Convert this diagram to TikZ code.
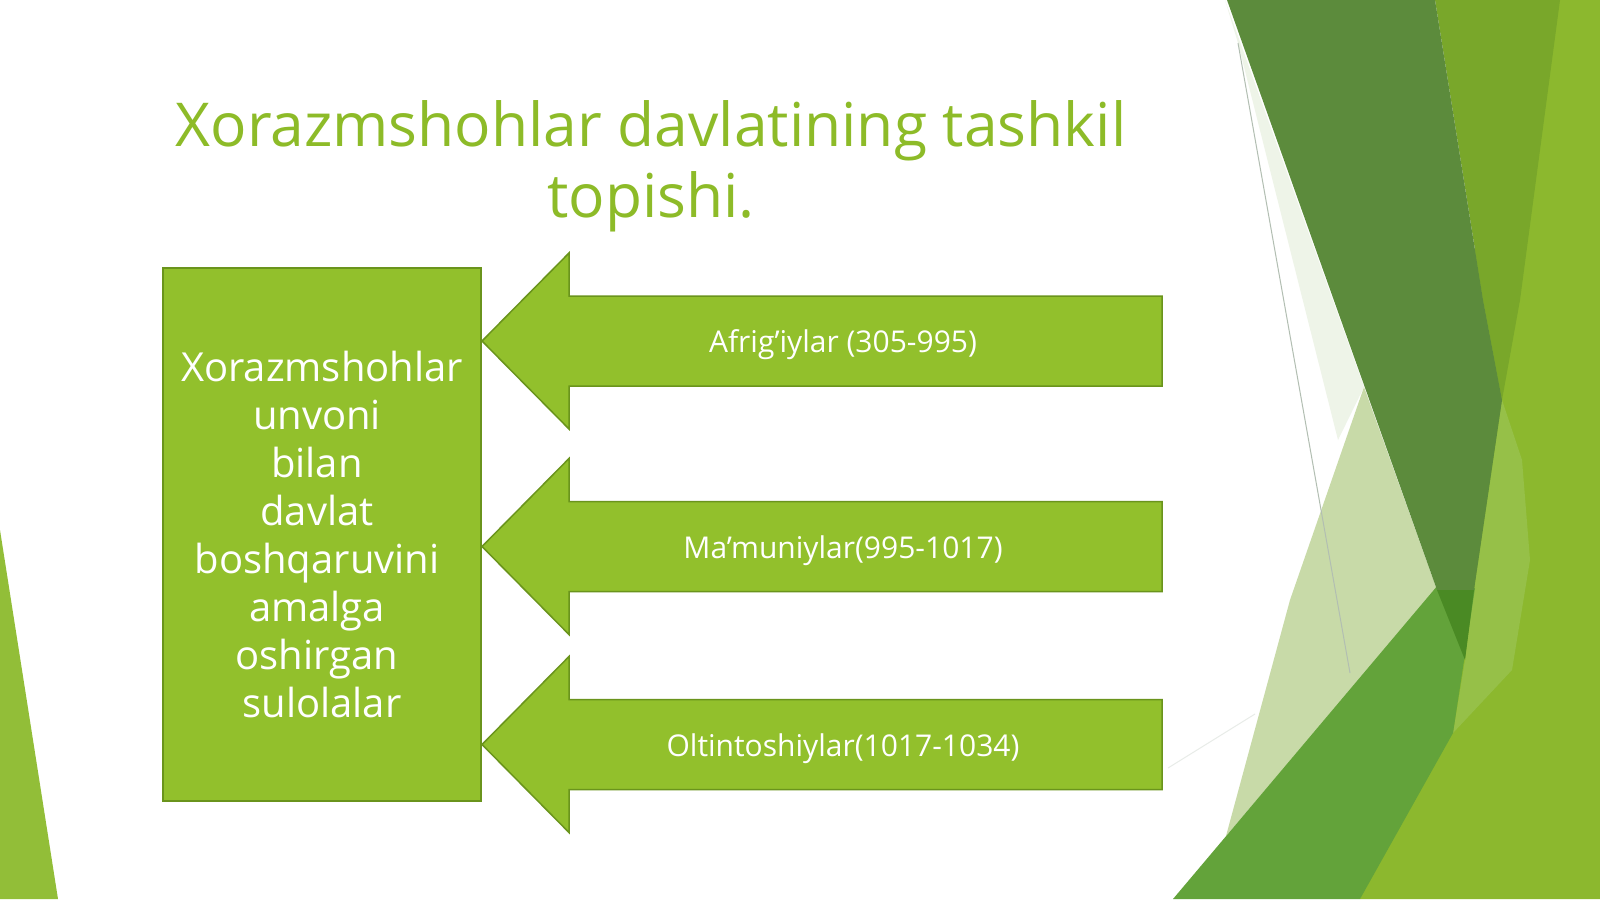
\documentclass[tikz,border=0pt]{standalone}
\usepackage{fontspec}
\setmainfont{Open Sans}
\definecolor{titleg}{RGB}{141,187,40}
\definecolor{boxg}{RGB}{146,192,44}
\definecolor{boxline}{RGB}{106,148,28}
\definecolor{ltg}{RGB}{140,184,46}
\definecolor{mdg}{RGB}{121,167,42}
\definecolor{dkg}{RGB}{92,139,60}
\definecolor{bandg}{RGB}{99,163,58}
\definecolor{paleg}{RGB}{200,218,168}
\definecolor{veryp}{RGB}{238,244,232}
\definecolor{tipg}{RGB}{74,138,36}
\definecolor{softg}{RGB}{150,192,72}
\definecolor{leftg}{RGB}{146,190,56}
\tikzset{
  arrowbox/.style={fill=boxg, draw=boxline, line width=1.5pt, line join=miter},
  mainbox/.style={fill=boxg, draw=boxline, line width=1.5pt, minimum width=318pt, minimum height=533pt, inner sep=0pt, align=center, text=white, font=\fontsize{40}{48}\selectfont},
  arrowlabel/.style={text=white, font=\fontsize{30}{34}\selectfont, inner sep=0pt},
  titletext/.style={text=titleg, align=center, font=\fontsize{60.5}{71}\selectfont, inner sep=0pt}
}
\newcommand\leftarrowshape[1]{%
  \draw[arrowbox] (482,#1) -- (569,{#1-88}) -- (569,{#1-45}) -- (1162,{#1-45}) -- (1162,{#1+45}) -- (569,{#1+45}) -- (569,{#1+88}) -- cycle;}
\newcommand\trail{\hbox to 10pt{}}
\begin{document}
\begin{tikzpicture}[x=1pt,y=-1pt]
\useasboundingbox (0,0) rectangle (1600,899);
\fill[white] (0,0) rectangle (1600,899);
% left decoration
\fill[leftg] (0,530) -- (58,899) -- (0,899) -- cycle;
% right decoration
\fill[ltg] (1500,0) -- (1600,0) -- (1600,899) -- (1360,899) -- (1440,600) -- cycle;
\fill[mdg] (1435,0) -- (1560,0) -- (1520,300) -- (1502,400) -- (1483,300) -- cycle;
\fill[softg] (1502,400) -- (1522,460) -- (1530,560) -- (1512,670) -- (1453,733) -- (1465,660) -- (1474,590) -- cycle;
\fill[veryp] (1225,0) -- (1364,387) -- (1338,440) -- (1238,43) -- cycle;
\fill[paleg] (1364,387) -- (1290,600) -- (1226,836) -- (1432,595) -- (1437,590) -- cycle;
\fill[bandg] (1438,585) -- (1475,588) -- (1453,733) -- (1360,899) -- (1173,899) -- cycle;
\fill[dkg] (1227,0) -- (1435,0) -- (1483,300) -- (1502,400) -- (1474,590) -- (1437,590) -- cycle;
\fill[tipg] (1437,590) -- (1474,590) -- (1465,660) -- cycle;
\draw[color={rgb,255:red,178;green,190;blue,178}, line width=1pt] (1238,43) -- (1350,673);
\draw[color={rgb,255:red,232;green,236;blue,232}, line width=1pt] (1168,768) -- (1255,714);
% title
\node[titletext] (title) at (651,166) {Xorazmshohlar davlatining tashkil\\topishi.};
% main box
\node[mainbox] (box) at (322,534.5) {Xorazmshohlar\\unvoni\trail\\bilan\trail\\davlat\trail\\boshqaruvini\trail\\amalga\trail\\oshirgan\trail\\sulolalar};
% arrows
\leftarrowshape{341}
\leftarrowshape{546.5}
\leftarrowshape{744.5}
\node[arrowlabel] (a1) at (843,345) {Afrig’iylar (305-995)};
\node[arrowlabel] (a2) at (843,550.5) {Ma’muniylar(995-1017)};
\node[arrowlabel] (a3) at (843,748.5) {Oltintoshiylar(1017-1034)};
\end{tikzpicture}
\end{document}
